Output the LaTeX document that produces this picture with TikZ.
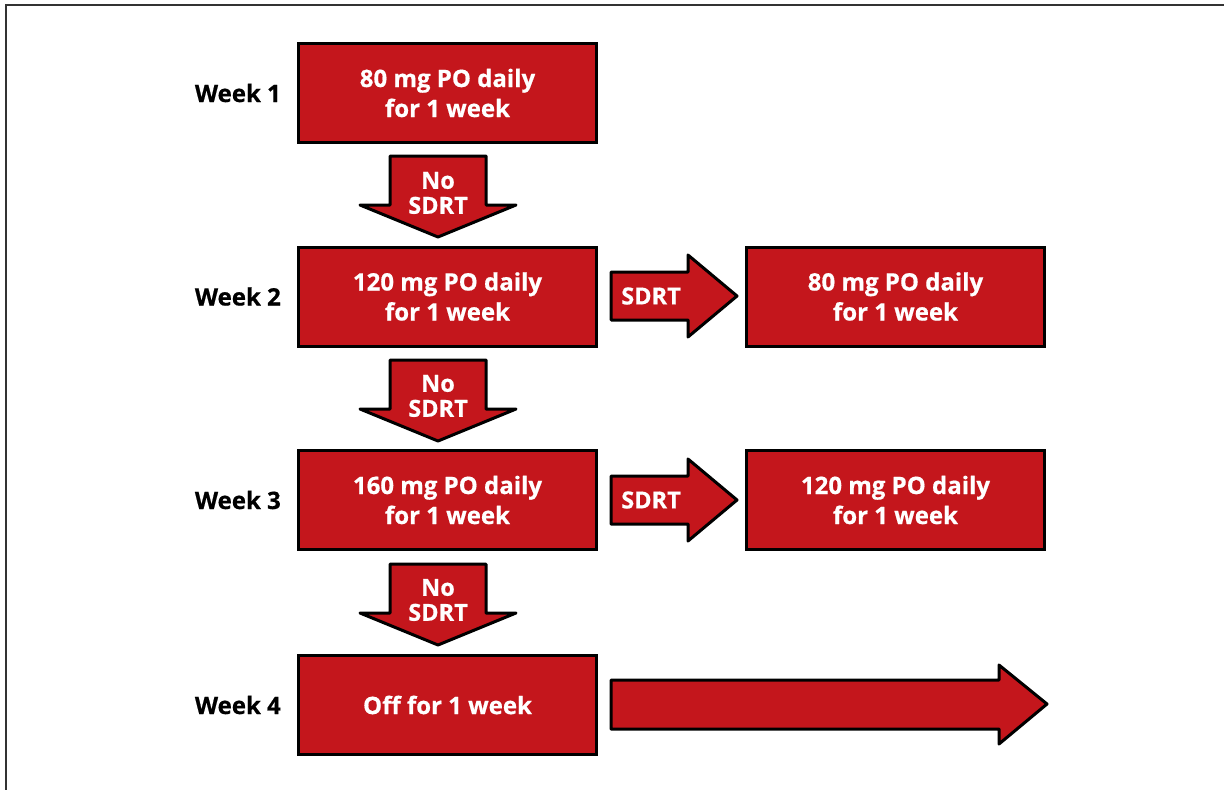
\documentclass[tikz,border=0pt]{standalone}
\usepackage{fontspec}
\setmainfont{Open Sans}[BoldFeatures={FakeBold=0.6}]
\definecolor{boxred}{HTML}{C4161C}
\definecolor{framegray}{HTML}{333333}
\tikzset{
  x=1pt, y=-1pt,
  redbox/.style={draw=black, line width=3pt, fill=boxred, minimum width=298pt, minimum height=99pt, inner sep=0pt, text=white, font=\bfseries\fontsize{24}{30}\selectfont, align=center},
  blockarrow/.style={draw=black, line width=3pt, fill=boxred, line join=round},
  arrowtext/.style={text=white, font=\bfseries\fontsize{23.5}{25}\selectfont, align=center, inner sep=0pt},
  weeklabel/.style={anchor=east, font=\bfseries\fontsize{24}{30}\selectfont, inner sep=0pt},
}
\newcommand{\downarrowat}[2]{% center x, top y
  \draw[blockarrow] (#1-48,#2) -- (#1+48,#2) -- (#1+48,#2+49) -- (#1+78,#2+49) -- (#1,#2+81) -- (#1-78,#2+49) -- (#1-48,#2+49) -- cycle;}
\newcommand{\rightarrowat}[2]{% left x, center y
  \draw[blockarrow] (#1,#2-24) -- (#1+77,#2-24) -- (#1+77,#2-41) -- (#1+126,#2) -- (#1+77,#2+41) -- (#1+77,#2+24) -- (#1,#2+24) -- cycle;}
\begin{document}
\begin{tikzpicture}
\useasboundingbox (0,0) rectangle (1224,790);
\draw[framegray, line width=1.5pt] (6,790) -- (6,5) -- (1224,5);
% main column
\node[redbox] (b1) at (447.5,93) {80 mg PO daily\\for 1 week};
\node[redbox] (b2) at (447.5,296.5) {120 mg PO daily\\for 1 week};
\node[redbox] (b3) at (447.5,500) {160 mg PO daily\\for 1 week};
\node[redbox] (b4) at (447.5,705) {Off for 1 week};
% right column
\node[redbox] (r2) at (895.5,296.5) {80 mg PO daily\\for 1 week};
\node[redbox] (r3) at (895.5,500) {120 mg PO daily\\for 1 week};
% week labels
\node[weeklabel] (w1) at (281,93) {Week 1};
\node[weeklabel] (w2) at (281,296.5) {Week 2};
\node[weeklabel] (w3) at (281,500) {Week 3};
\node[weeklabel] (w4) at (281,705) {Week 4};
% down arrows
\downarrowat{438}{156}
\node[arrowtext] (d1) at (438,193) {No\\SDRT};
\downarrowat{438}{360}
\node[arrowtext] (d2) at (438,396) {No\\SDRT};
\downarrowat{438}{564}
\node[arrowtext] (d3) at (438,600) {No\\SDRT};
% right arrows
\rightarrowat{611}{296}
\node[arrowtext] (s2) at (651,296) {SDRT};
\rightarrowat{611}{500}
\node[arrowtext] (s3) at (651,500) {SDRT};
% long arrow week 4
\draw[blockarrow] (611,680) -- (999,680) -- (999,665) -- (1047,704) -- (999,744) -- (999,729) -- (611,729) -- cycle;
\end{tikzpicture}
\end{document}
